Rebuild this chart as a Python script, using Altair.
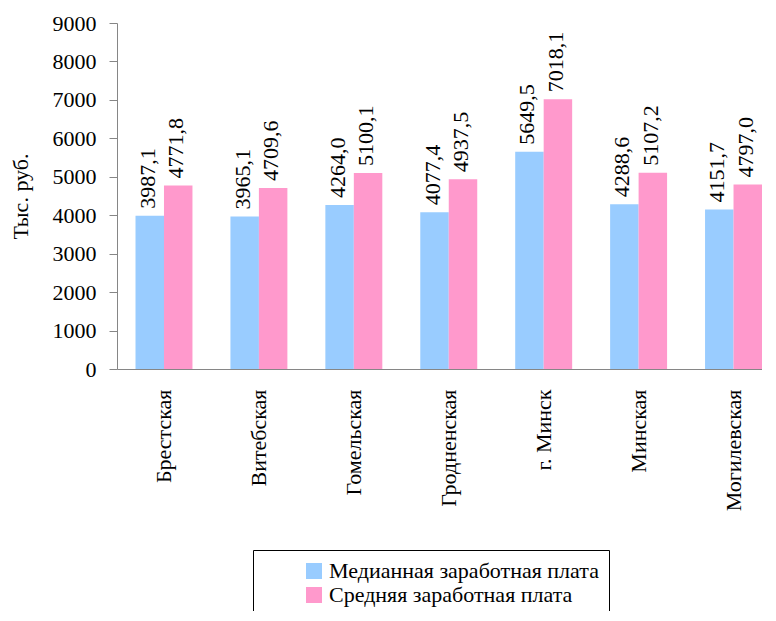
import altair as alt
import pandas as pd

regions = ["Брестская", "Витебская", "Гомельская", "Гродненская", "г. Минск", "Минская", "Могилевская"]
series_names = ["Медианная заработная плата", "Средняя заработная плата"]
median_vals = [3987.1, 3965.1, 4264.0, 4077.4, 5649.5, 4288.6, 4151.7]
mean_vals = [4771.8, 4709.6, 5100.1, 4937.5, 7018.1, 5107.2, 4797.0]
colors = ["#99CCFF", "#FF99CC"]
y_ticks = list(range(0, 9001, 1000))

rows = []
for i, r in enumerate(regions):
    for s, vals in zip(series_names, [median_vals, mean_vals]):
        v = vals[i]
        rows.append({"region": r, "series": s, "value": v,
                     "label": f"{v:.1f}".replace(".", ",")})
df = pd.DataFrame(rows)

FONT = "Liberation Serif"
FS = 22

x_enc = alt.X("region:N", sort=regions, title=None,
              scale=alt.Scale(paddingInner=0.4, paddingOuter=0.0975, align=1),
              axis=alt.Axis(labelAngle=-90, ticks=False, tickSize=0, labelPadding=20,
                            domainColor="#868686", labelFont=FONT, labelFontSize=FS,
                            labelColor="black", labelLimit=300, labelOverlap=False))
xoff = alt.XOffset("series:N", sort=series_names,
                   scale=alt.Scale(paddingInner=0, paddingOuter=0))
y_enc = alt.Y("value:Q", title="Тыс. руб.",
              scale=alt.Scale(domain=[0, 9000], nice=False),
              axis=alt.Axis(values=y_ticks, format="d", grid=False, domainColor="#868686",
                            tickColor="#868686", tickSize=8, labelPadding=13,
                            labelOverlap=False,
                            labelFont=FONT, labelFontSize=FS, labelColor="black",
                            titleFont=FONT, titleFontSize=FS, titleFontWeight="normal",
                            titleColor="black", titlePadding=20))

bars = alt.Chart(df).mark_bar().encode(
    x=x_enc, xOffset=xoff, y=y_enc,
    color=alt.Color("series:N", sort=series_names,
                    scale=alt.Scale(domain=series_names, range=colors),
                    legend=alt.Legend(title=None, orient="none", legendX=136, legendY=527,
                                      strokeColor="black", padding=10, symbolOffset=40,
                                      symbolType="square", symbolSize=256,
                                      symbolStrokeWidth=0, labelFont=FONT,
                                      labelFontSize=FS, labelColor="black",
                                      rowPadding=2, labelLimit=400)),
)

texts = alt.Chart(df).mark_text(angle=270, align="left", baseline="middle", dx=7, dy=-2,
                                font=FONT, fontSize=FS, color="black").encode(
    x=x_enc, xOffset=xoff, y=y_enc,
    text="label:N",
)

chart = alt.layer(bars, texts).properties(
    width=645, height=346,
    autosize=alt.AutoSizeParams(type="none"),
    padding={"left": 109, "top": 15, "right": 0, "bottom": 242},
).configure(font=FONT).configure_view(stroke=None)

chart.save("out.html", embed_options={"renderer": "svg", "actions": False})
